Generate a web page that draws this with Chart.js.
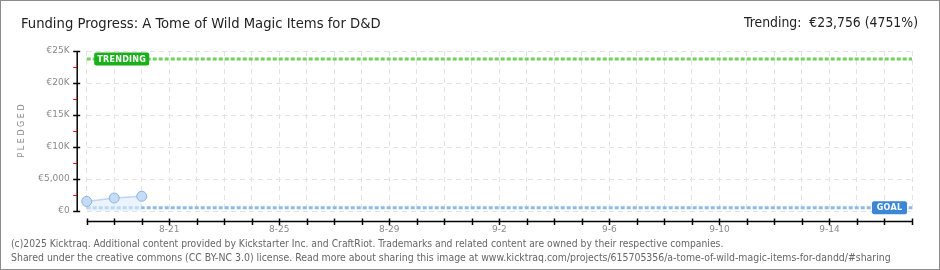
<!DOCTYPE html>
<html><head><meta charset="utf-8">
<script src="https://cdn.jsdelivr.net/npm/chart.js@4.4.1/dist/chart.umd.min.js"></script>
<style>
html,body{margin:0;padding:0;background:#fff;}
#frame{position:relative;width:940px;height:270px;box-sizing:border-box;border:1px solid #8c8c8c;overflow:hidden;background:#fff;}
canvas{position:absolute;left:0;top:0;}
.t{position:absolute;white-space:nowrap;line-height:1;}
#title{left:20px;top:15px;font-family:"Liberation Sans Narrow","DejaVu Sans Condensed",sans-serif;font-size:16px;color:#222;}
#trend{right:21px;top:15px;font-family:"Liberation Sans Narrow","DejaVu Sans Condensed",sans-serif;font-size:16px;color:#222;}
.foot{left:10px;font-family:"DejaVu Sans Condensed","Liberation Sans",sans-serif;font-size:10px;color:#666;}
#f1{top:237px;}
#f2{top:251px;}
</style></head>
<body>
<div id="frame">
<canvas id="c" width="940" height="270"></canvas>
<div class="t" id="title">Funding Progress: A Tome of Wild Magic Items for D&amp;D</div>
<div class="t" id="trend">Trending:&nbsp; €23,756 (4751%)</div>
<div class="t foot" id="f1">(c)2025 Kicktraq. Additional content provided by Kickstarter Inc. and CraftRiot. Trademarks and related content are owned by their respective companies.</div>
<div class="t foot" id="f2">Shared under the creative commons (CC BY-NC 3.0) license. Read more about sharing this image at www.kicktraq.com/projects/615705356/a-tome-of-wild-magic-items-for-dandd/#sharing</div>
</div>
<script>
// ---- data ----
const days = ['8-18','8-19','8-20','8-21','8-22','8-23','8-24','8-25','8-26','8-27','8-28','8-29','8-30','8-31',
  '9-1','9-2','9-3','9-4','9-5','9-6','9-7','9-8','9-9','9-10','9-11','9-12','9-13','9-14','9-15','9-16','9-17'];
const shownDayLabels = ['8-21','8-25','8-29','9-2','9-6','9-10','9-14'];
const pledged = [1500, 2030, 2300];
const goalValue = 500;
const trendingValue = 23756;
const yTickValues = [0, 5000, 10000, 15000, 20000, 25000];
const yTickLabels = ['€0', '€5,000', '€10K', '€15K', '€20K', '€25K'];
const yMinorValues = [2500, 7500, 12500, 17500, 22500];

// fit texts to reference widths
function fit(id, w){const el=document.getElementById(id);const cur=el.getBoundingClientRect().width;const fs=parseFloat(getComputedStyle(el).fontSize);el.style.fontSize=(fs*w/cur)+'px';}
fit('title',360); fit('trend',174); fit('f1',713); fit('f2',880);

const axisPlugin = {
  id:'axisPlugin',
  afterDraw(chart){
    const ctx=chart.ctx, a=chart.chartArea, x=chart.scales.x, y=chart.scales.y;
    ctx.save();
    // y axis line
    const ax = a.left - 9.5;
    ctx.strokeStyle='#000'; ctx.lineWidth=1.5;
    ctx.beginPath(); ctx.moveTo(ax, y.getPixelForValue(25000)); ctx.lineTo(ax, y.getPixelForValue(0)+0.5); ctx.stroke();
    yTickValues.forEach(v=>{const py=Math.round(y.getPixelForValue(v))+0.5;ctx.beginPath();ctx.moveTo(ax-4,py);ctx.lineTo(ax+3,py);ctx.stroke();});
    ctx.strokeStyle='#e00000'; ctx.lineWidth=1;
    yMinorValues.forEach(v=>{const py=Math.round(y.getPixelForValue(v))+0.5;ctx.beginPath();ctx.moveTo(ax-4,py);ctx.lineTo(ax,py);ctx.stroke();});
    // x axis line
    const ay = a.bottom + 10.5;
    ctx.strokeStyle='#000'; ctx.lineWidth=1.5;
    ctx.beginPath(); ctx.moveTo(x.getPixelForValue(0), ay); ctx.lineTo(x.getPixelForValue(days.length-1), ay); ctx.stroke();
    days.forEach((d,i)=>{const px=Math.round(x.getPixelForValue(i))+0.5;ctx.beginPath();ctx.moveTo(px,ay-3);ctx.lineTo(px,ay+3.5);ctx.stroke();});
    // labels
    function box(text, bx, cy, w, color){
      ctx.fillStyle=color;
      ctx.beginPath(); ctx.roundRect(bx, cy-6.5, w, 13, 2); ctx.fill();
      ctx.fillStyle='#fff'; ctx.font='bold 8px "DejaVu Sans"'; ctx.textBaseline='middle'; ctx.textAlign='center';
      if (ctx.letterSpacing!==undefined) ctx.letterSpacing='0.3px';
      ctx.fillText(text, bx+w/2, cy+0.5);
      if (ctx.letterSpacing!==undefined) ctx.letterSpacing='0px';
    }
    box('TRENDING', a.left+7.5, y.getPixelForValue(trendingValue), 55, '#19b119');
    box('GOAL', a.right-40, y.getPixelForValue(goalValue), 35, '#3b87d6');
    ctx.restore();
  }
};

new Chart(document.getElementById('c'), {
  type:'line',
  data:{
    labels:days,
    datasets:[
      {label:'Pledged', data:pledged, borderColor:'#bcd6f2', borderWidth:1.5, backgroundColor:'rgba(222,236,251,0.6)',
       fill:'origin', pointRadius:5, pointBackgroundColor:'#c4dcf6', pointBorderColor:'#8fb3dd', pointBorderWidth:1, tension:0},
      {label:'Goal', data:[{x:days[0],y:goalValue},{x:days[days.length-1],y:goalValue}], borderColor:'#8fb9e6', borderWidth:3,
       borderDash:[4,2], pointRadius:0, fill:false},
      {label:'Trending', data:[{x:days[0],y:trendingValue},{x:days[days.length-1],y:trendingValue}], borderColor:'#72d05f', borderWidth:3,
       borderDash:[4,2], pointRadius:0, fill:false}
    ]
  },
  options:{
    responsive:false, animation:false, devicePixelRatio:1,
    layout:{padding:{top:50,right:29,left:0,bottom:0}},
    plugins:{legend:{display:false}, tooltip:{enabled:false}},
    scales:{
      x:{type:'category', offset:false,
        grid:{color:'#e3e3e3', drawTicks:false, lineWidth:1},
        border:{display:false, dash:[5,4]},
        ticks:{autoSkip:false, maxRotation:0, padding:13, color:'#8a8a8a', font:{family:'DejaVu Sans', size:9},
          callback:function(v,i){const l=days[i];return shownDayLabels.includes(l)?l:'';}},
        afterFit(s){s.height=60;}
      },
      y:{min:0,max:25000,
        grid:{color:'#e3e3e3', drawTicks:false},
        border:{display:false, dash:[5,4]},
        afterBuildTicks(s){s.ticks=yTickValues.map(v=>({value:v}));},
        ticks:{padding:17, color:'#8a8a8a', font:{family:'DejaVu Sans', size:9},
          callback:function(v){const i=yTickValues.indexOf(v);return i>=0?yTickLabels[i]:'';}},
        title:{display:true, text:'P L E D G E D', color:'#8a8a8a', font:{family:'DejaVu Sans', size:8}, padding:{top:16,bottom:0}},
        afterFit(s){s.width=85.7;}
      }
    }
  },
  plugins:[axisPlugin]
});
</script>
</body></html>
